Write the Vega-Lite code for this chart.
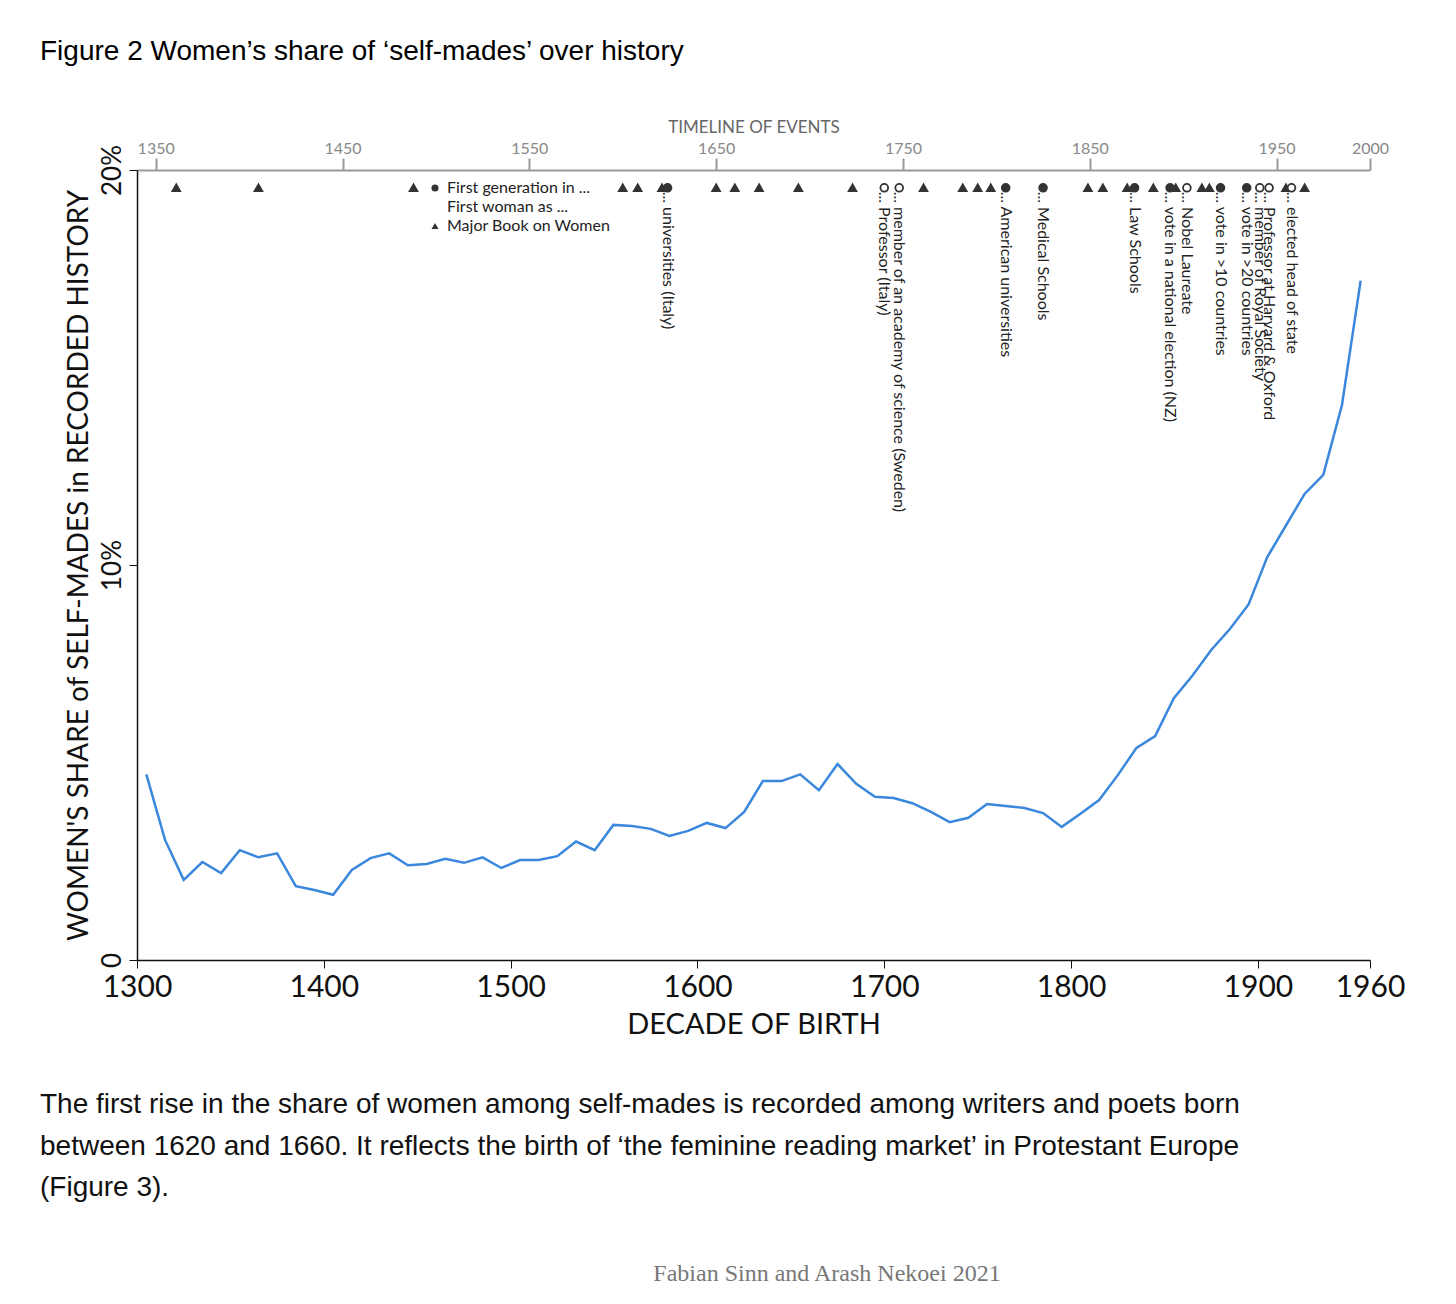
{
"$schema":"https://vega.github.io/schema/vega-lite/v6.json",
"background":"white",
"padding":{"left":40,"top":38,"right":20,"bottom":10},
"title":{"text":"Figure 2 Women’s share of ‘self-mades’ over history","anchor":"start","fontSize":28,"fontWeight":"normal","font":"Liberation Sans","color":"#000","offset":52,"dx":0},
"config":{"view":{"stroke":null},"font":"Lato"},
"datasets":{
"share":[
{"decade":1305,"pct":4.7},{"decade":1315,"pct":3.04},{"decade":1325,"pct":2.03},{"decade":1335,"pct":2.48},{"decade":1345,"pct":2.2},{"decade":1355,"pct":2.78},{"decade":1365,"pct":2.6},{"decade":1375,"pct":2.7},{"decade":1385,"pct":1.87},{"decade":1395,"pct":1.77},{"decade":1405,"pct":1.65},{"decade":1415,"pct":2.28},{"decade":1425,"pct":2.58},{"decade":1435,"pct":2.7},{"decade":1445,"pct":2.4},{"decade":1455,"pct":2.43},{"decade":1465,"pct":2.56},{"decade":1475,"pct":2.46},{"decade":1485,"pct":2.6},{"decade":1495,"pct":2.33},{"decade":1505,"pct":2.53},{"decade":1515,"pct":2.53},{"decade":1525,"pct":2.63},{"decade":1535,"pct":3.0},{"decade":1545,"pct":2.78},{"decade":1555,"pct":3.42},{"decade":1565,"pct":3.39},{"decade":1575,"pct":3.32},{"decade":1585,"pct":3.14},{"decade":1595,"pct":3.27},{"decade":1605,"pct":3.47},{"decade":1615,"pct":3.34},{"decade":1625,"pct":3.75},{"decade":1635,"pct":4.53},{"decade":1645,"pct":4.53},{"decade":1655,"pct":4.7},{"decade":1665,"pct":4.3},{"decade":1675,"pct":4.96},{"decade":1685,"pct":4.46},{"decade":1695,"pct":4.13},{"decade":1705,"pct":4.1},{"decade":1715,"pct":3.97},{"decade":1725,"pct":3.75},{"decade":1735,"pct":3.49},{"decade":1745,"pct":3.6},{"decade":1755,"pct":3.95},{"decade":1765,"pct":3.9},{"decade":1775,"pct":3.85},{"decade":1785,"pct":3.72},{"decade":1795,"pct":3.37},{"decade":1805,"pct":3.7},{"decade":1815,"pct":4.05},{"decade":1825,"pct":4.68},{"decade":1835,"pct":5.37},{"decade":1845,"pct":5.67},{"decade":1855,"pct":6.63},{"decade":1865,"pct":7.2},{"decade":1875,"pct":7.85},{"decade":1885,"pct":8.38},{"decade":1895,"pct":9.0},{"decade":1905,"pct":10.2},{"decade":1915,"pct":11.0},{"decade":1925,"pct":11.8},{"decade":1935,"pct":12.28},{"decade":1945,"pct":14.05},{"decade":1955,"pct":17.2}
],
"events":[
{"year":1361,"type":"Major Book on Women","label":""},
{"year":1405,"type":"Major Book on Women","label":""},
{"year":1488,"type":"Major Book on Women","label":""},
{"year":1600,"type":"Major Book on Women","label":""},
{"year":1608,"type":"Major Book on Women","label":""},
{"year":1621,"type":"Major Book on Women","label":""},
{"year":1624,"type":"First generation in ...","label":"... universities (Italy)"},
{"year":1650,"type":"Major Book on Women","label":""},
{"year":1660,"type":"Major Book on Women","label":""},
{"year":1673,"type":"Major Book on Women","label":""},
{"year":1694,"type":"Major Book on Women","label":""},
{"year":1723,"type":"Major Book on Women","label":""},
{"year":1740,"type":"First woman as ...","label":"... Professor (Italy)"},
{"year":1748,"type":"First woman as ...","label":"... member of an academy of science (Sweden)"},
{"year":1761,"type":"Major Book on Women","label":""},
{"year":1782,"type":"Major Book on Women","label":""},
{"year":1790,"type":"Major Book on Women","label":""},
{"year":1797,"type":"Major Book on Women","label":""},
{"year":1805,"type":"First generation in ...","label":"... American universities"},
{"year":1825,"type":"First generation in ...","label":"... Medical Schools"},
{"year":1849,"type":"Major Book on Women","label":""},
{"year":1857,"type":"Major Book on Women","label":""},
{"year":1870,"type":"Major Book on Women","label":""},
{"year":1874,"type":"First generation in ...","label":"... Law Schools"},
{"year":1884,"type":"Major Book on Women","label":""},
{"year":1893,"type":"First generation in ...","label":"... vote in a national election (NZ)"},
{"year":1896,"type":"Major Book on Women","label":""},
{"year":1902,"type":"First woman as ...","label":"... Nobel Laureate"},
{"year":1910,"type":"Major Book on Women","label":""},
{"year":1914,"type":"Major Book on Women","label":""},
{"year":1920,"type":"First generation in ...","label":"... vote in >10 countries"},
{"year":1934,"type":"First generation in ...","label":"... vote in >20 countries"},
{"year":1941,"type":"First woman as ...","label":"... member of Royal Society"},
{"year":1946,"type":"First woman as ...","label":"... Professor at Harvard & Oxford"},
{"year":1955,"type":"Major Book on Women","label":""},
{"year":1958,"type":"First woman as ...","label":"... elected head of state"},
{"year":1965,"type":"Major Book on Women","label":""}
],
"caption":[
{"line":1,"text":"The first rise in the share of women among self-mades is recorded among writers and poets born"},
{"line":2,"text":"between 1620 and 1660. It reflects the birth of ‘the feminine reading market’ in Protestant Europe"},
{"line":3,"text":"(Figure 3)."}
],
"source":[{"text":"Fabian Sinn and Arash Nekoei 2021"}]
},
"vconcat":[
{
"width":1233,"height":790,
"layer":[
{
"data":{"name":"share"},
"mark":{"type":"line","color":"#3a87dc","strokeWidth":2.5},
"encoding":{
"x":{"field":"decade","type":"quantitative","scale":{"domain":[1300,1960],"nice":false,"zero":false},
"axis":{"values":[1300,1400,1500,1600,1700,1800,1900,1960],"format":"d","title":"DECADE OF BIRTH","titleFontSize":29,"titleFontWeight":"normal","titleColor":"#111","labelFontSize":30,"labelColor":"#111","domainColor":"#111","tickColor":"#111","domainWidth":1.5,"tickSize":8,"grid":false,"labelPadding":4,"titlePadding":8,"labelFlush":false}},
"y":{"field":"pct","type":"quantitative","scale":{"domain":[0,20],"nice":false},
"axis":{"values":[0,10,20],"labelExpr":"datum.value==0?'0':datum.value+'%'","labelAngle":-90,"labelAlign":"center","labelBaseline":"bottom","labelFontSize":26,"labelColor":"#111","title":"WOMEN'S SHARE of SELF-MADES in RECORDED HISTORY","titleFontSize":28,"titleFontWeight":"normal","titleColor":"#111","domainColor":"#111","tickColor":"#111","domainWidth":1.5,"tickSize":8,"grid":false,"labelPadding":4,"titlePadding":6}}
}
},
{
"data":{"name":"events"},
"layer":[
{
"mark":{"type":"point","filled":true,"size":60,"strokeWidth":1.8,"stroke":"#333","opacity":1},
"encoding":{
"x":{"field":"year","type":"quantitative","scale":{"domain":[1340,2000],"nice":false,"zero":false},
"axis":{"orient":"top","values":[1350,1450,1550,1650,1750,1850,1950,2000],"format":"d","title":"TIMELINE OF EVENTS","titleFontSize":17,"titleFontWeight":"normal","titleColor":"#666","labelFontSize":16,"labelColor":"#888","domainColor":"#999","tickColor":"#999","tickSize":12,"domainWidth":2,"tickWidth":2,"grid":false,"labelFlush":false,"titlePadding":4}},
"y":{"datum":19.55},
"shape":{"field":"type","type":"nominal","scale":{"domain":["First generation in ...","First woman as ...","Major Book on Women"],"range":["circle","circle","triangle-up"]},
"legend":{"title":null,"orient":"none","legendX":290,"legendY":10,"labelFontSize":16,"labelLimit":400,"labelColor":"#222","symbolSize":50,"symbolStrokeColor":"#333","symbolStrokeWidth":1.8,"rowPadding":3,"labelOffset":4}},
"fill":{"field":"type","type":"nominal","scale":{"domain":["First generation in ...","First woman as ...","Major Book on Women"],"range":["#333","#ffffff","#333"]},
"legend":{"title":null,"orient":"none","legendX":290,"legendY":10,"labelFontSize":16,"labelLimit":400,"labelColor":"#222","symbolSize":50,"symbolStrokeColor":"#333","symbolStrokeWidth":1.8,"rowPadding":3,"labelOffset":4}}
}
},
{
"mark":{"type":"text","angle":90,"align":"left","baseline":"middle","fontSize":16,"color":"#222","dx":-4},
"encoding":{
"x":{"field":"year","type":"quantitative"},
"y":{"datum":19.35},
"text":{"field":"label"}
}
}
]
}
],
"resolve":{"scale":{"x":"independent"},"axis":{"x":"independent"}}
},
{
"width":1380,"height":125,
"layer":[
{
"data":{"name":"caption"},
"mark":{"type":"text","align":"left","baseline":"middle","fontSize":28,"font":"Liberation Sans","color":"#111"},
"encoding":{
"x":{"value":-97},
"y":{"field":"line","type":"ordinal","axis":null},
"text":{"field":"text"}
}
}
]
},
{
"width":1380,"height":40,
"data":{"name":"source"},
"mark":{"type":"text","align":"center","baseline":"middle","fontSize":24,"font":"Liberation Serif","color":"#777"},
"encoding":{"text":{"field":"text"}}
}
],
"spacing":45
}
